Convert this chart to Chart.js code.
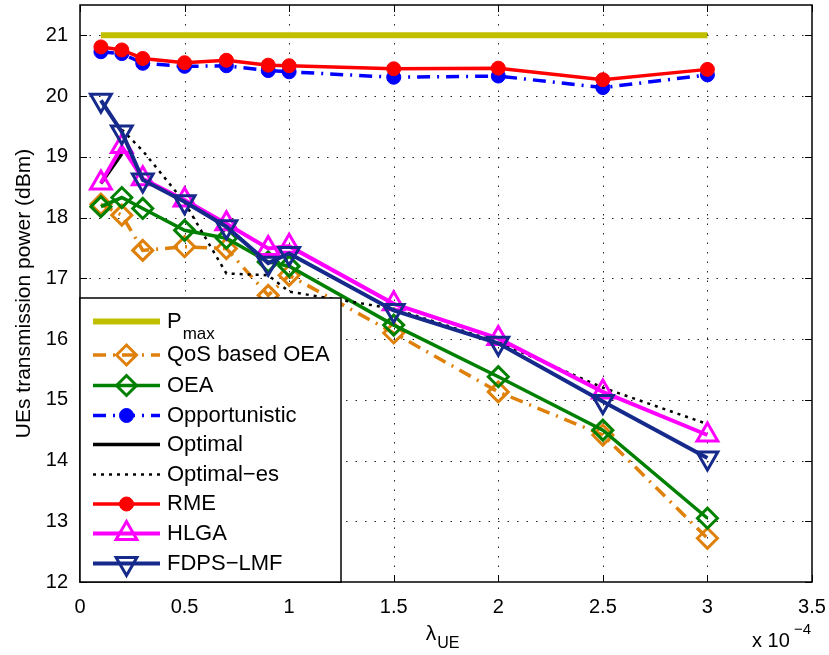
<!DOCTYPE html>
<html>
<head>
<meta charset="utf-8">
<script src="https://cdn.jsdelivr.net/npm/chart.js@4.4.1/dist/chart.umd.min.js"></script>
<style>
html, body { margin: 0; padding: 0; background: #fff; }
#wrap { width: 829px; height: 655px; }
</style>
</head>
<body>
<div id="wrap"><canvas id="potenciaChart" width="829" height="655"></canvas></div>
<script>
// Datos (lambda_UE en unidades de 1e-4)
const lambdaUE = [0.1, 0.2, 0.3, 0.5, 0.7, 0.9, 1.0, 1.5, 2.0, 2.5, 3.0];
const pMax = [21, 21, 21, 21, 21, 21, 21, 21, 21, 21, 21];
const qosOEA = [18.22, 18.04, 17.46, 17.52, 17.49, 16.72, 17.05, 16.1, 15.13, 14.42, 12.72];
const oea = [18.18, 18.33, 18.15, 17.79, 17.66, 17.27, 17.2, 16.23, 15.38, 14.5, 13.05];
const oportunista = [20.73, 20.70, 20.54, 20.49, 20.5, 20.42, 20.40, 20.31, 20.33, 20.14, 20.35];
const rme = [20.81, 20.76, 20.62, 20.55, 20.59, 20.51, 20.5, 20.45, 20.46, 20.27, 20.44];
const hlga = [18.57, 19.17, 18.64, 18.29, 17.9, 17.49, 17.53, 16.58, 16.01, 15.13, 14.42];
const fdpsLMF = [19.93, 19.41, 18.62, 18.26, 17.85, 17.25, 17.41, 16.47, 15.93, 14.97, 14.04];
const optimoX = [0.1, 0.2];
const optimo = [18.56, 19.05];
const optimoEsX = [0.2, 0.3, 0.5, 0.7, 0.9, 1.0, 1.5, 2.0, 2.5, 3.0];
const optimoEs = [19.45, 19.1, 18.25, 17.08, 17.05, 16.78, 16.5, 15.95, 15.2, 14.6];
const xTicks = [0, 0.5, 1, 1.5, 2, 2.5, 3, 3.5];
const yTicks = [12, 13, 14, 15, 16, 17, 18, 19, 20, 21];

const FUENTE = '"Liberation Sans", Arial, Helvetica, sans-serif';

function puntos(xs, ys) {
    return xs.map((x, i) => ({ x: x, y: ys[i] }));
}

// Series en el orden de la leyenda (las últimas se dibujan encima)
const series = [
    { label: 'P', sub: 'max', data: puntos(lambdaUE, pMax), borderColor: 'rgb(191,191,0)', borderWidth: 6,
      pointRadius: 0 },
    { label: 'QoS based OEA', data: puntos(lambdaUE, qosOEA), borderColor: 'rgb(222,128,10)', borderWidth: 3.5,
      borderDash: [13, 7, 2, 7], pointStyle: 'rectRot', pointRadius: 10, pointBorderWidth: 3 },
    { label: 'OEA', data: puntos(lambdaUE, oea), borderColor: 'rgb(0,128,0)', borderWidth: 3.5,
      pointStyle: 'rectRot', pointRadius: 10, pointBorderWidth: 3 },
    { label: 'Opportunistic', data: puntos(lambdaUE, oportunista), borderColor: 'rgb(0,0,255)', borderWidth: 3.5,
      borderDash: [13, 7, 2, 7], pointStyle: 'circle', pointRadius: 7, pointBorderWidth: 1, relleno: true },
    { label: 'Optimal', data: puntos(optimoX, optimo), borderColor: 'rgb(0,0,0)', borderWidth: 3.5,
      pointRadius: 0 },
    { label: 'Optimal\u2212es', data: puntos(optimoEsX, optimoEs), borderColor: 'rgb(0,0,0)', borderWidth: 2.5,
      borderDash: [3, 5], pointRadius: 0 },
    { label: 'RME', data: puntos(lambdaUE, rme), borderColor: 'rgb(255,0,0)', borderWidth: 3.5,
      pointStyle: 'circle', pointRadius: 7, pointBorderWidth: 1, relleno: true },
    { label: 'HLGA', data: puntos(lambdaUE, hlga), borderColor: 'rgb(255,0,255)', borderWidth: 4,
      pointStyle: 'triangle', pointRadius: 12, pointBorderWidth: 3 },
    { label: 'FDPS\u2212LMF', data: puntos(lambdaUE, fdpsLMF), borderColor: 'rgb(22,42,140)', borderWidth: 4,
      pointStyle: 'triangle', pointRotation: 180, pointRadius: 12, pointBorderWidth: 3 }
];

const datasets = series.map((s, i) => Object.assign({
    borderDash: [],
    pointRotation: 0,
    pointBorderColor: s.borderColor,
    pointBackgroundColor: s.relleno ? s.borderColor : 'rgba(0,0,0,0)',
    fill: false,
    tension: 0,
    order: series.length - i
}, s));

// Rejilla punteada estilo MATLAB
const rejillaPlugin = {
    id: 'rejilla',
    beforeDatasetsDraw(chart) {
        const ctx = chart.ctx;
        const a = chart.chartArea;
        const sx = chart.scales.x, sy = chart.scales.y;
        ctx.save();
        ctx.strokeStyle = '#222';
        ctx.lineWidth = 1;
        ctx.setLineDash([1.5, 8]);
        xTicks.forEach(v => {
            const px = Math.round(sx.getPixelForValue(v)) + 0.5;
            if (px <= a.left + 1 || px >= a.right - 1) return;
            ctx.beginPath(); ctx.moveTo(px, a.top); ctx.lineTo(px, a.bottom); ctx.stroke();
        });
        yTicks.forEach(v => {
            const py = Math.round(sy.getPixelForValue(v)) + 0.5;
            if (py <= a.top + 1 || py >= a.bottom - 1) return;
            ctx.beginPath(); ctx.moveTo(a.left, py); ctx.lineTo(a.right, py); ctx.stroke();
        });
        ctx.restore();
    },
    afterDatasetsDraw(chart) {
        const ctx = chart.ctx;
        const a = chart.chartArea;
        const sx = chart.scales.x, sy = chart.scales.y;
        ctx.save();
        ctx.setLineDash([]);
        ctx.strokeStyle = '#000';
        ctx.lineWidth = 1.5;
        ctx.strokeRect(a.left, a.top, a.right - a.left, a.bottom - a.top);
        ctx.lineWidth = 1;
        const L = 7;
        xTicks.forEach(v => {
            const px = Math.round(sx.getPixelForValue(v)) + 0.5;
            ctx.beginPath();
            ctx.moveTo(px, a.bottom); ctx.lineTo(px, a.bottom - L);
            ctx.moveTo(px, a.top); ctx.lineTo(px, a.top + L);
            ctx.stroke();
        });
        yTicks.forEach(v => {
            const py = Math.round(sy.getPixelForValue(v)) + 0.5;
            ctx.beginPath();
            ctx.moveTo(a.left, py); ctx.lineTo(a.left + L, py);
            ctx.moveTo(a.right, py); ctx.lineTo(a.right - L, py);
            ctx.stroke();
        });
        ctx.restore();
    }
};

function dibujarMarcador(ctx, ds, x, y) {
    if (!ds.pointRadius) return;
    ctx.save();
    ctx.setLineDash([]);
    ctx.strokeStyle = ds.pointBorderColor;
    ctx.fillStyle = ds.pointBackgroundColor;
    ctx.lineWidth = ds.pointBorderWidth;
    Chart.helpers.drawPoint(ctx, {
        pointStyle: ds.pointStyle,
        rotation: ds.pointRotation,
        radius: ds.pointRadius,
        borderWidth: ds.pointBorderWidth
    }, x, y);
    ctx.restore();
}

// Leyenda dentro del área del gráfico, abajo a la izquierda
const leyendaPlugin = {
    id: 'leyenda',
    afterDatasetsDraw(chart) {
        const ctx = chart.ctx;
        const a = chart.chartArea;
        const caja = { left: a.left, top: 298, right: 341, bottom: a.bottom };
        ctx.save();
        ctx.fillStyle = '#fff';
        ctx.fillRect(caja.left, caja.top, caja.right - caja.left, caja.bottom - caja.top);
        ctx.strokeStyle = '#000';
        ctx.lineWidth = 1.5;
        ctx.strokeRect(caja.left, caja.top, caja.right - caja.left, caja.bottom - caja.top);
        const filas = [321.5, 355, 385.5, 415.5, 444.5, 474.5, 504, 533.5, 563.5];
        chart.data.datasets.forEach((ds, i) => {
            const y = filas[i];
            ctx.save();
            ctx.strokeStyle = ds.borderColor;
            ctx.lineWidth = ds.borderWidth;
            ctx.setLineDash(ds.borderDash || []);
            ctx.beginPath();
            ctx.moveTo(93, y); ctx.lineTo(160, y);
            ctx.stroke();
            ctx.restore();
            dibujarMarcador(ctx, ds, 126.5, y);
            ctx.fillStyle = '#000';
            ctx.textBaseline = 'middle';
            ctx.textAlign = 'left';
            ctx.font = '22px ' + FUENTE;
            ctx.fillText(ds.label, 167, y);
            if (ds.sub) {
                const w = ctx.measureText(ds.label).width;
                ctx.font = '17px ' + FUENTE;
                ctx.fillText(ds.sub, 167 + w + 1, y + 13);
            }
        });
        ctx.restore();
    }
};

// Títulos de ejes con subíndices y exponente
const titulosPlugin = {
    id: 'titulos',
    afterDraw(chart) {
        const ctx = chart.ctx;
        const a = chart.chartArea;
        ctx.save();
        ctx.fillStyle = '#000';
        ctx.textBaseline = 'alphabetic';
        // eje x: lambda_UE
        ctx.font = '21px ' + FUENTE;
        const wL = ctx.measureText('\u03bb').width;
        ctx.font = '16px ' + FUENTE;
        const wUE = ctx.measureText('UE').width;
        const xc = (a.left + a.right) / 2 - 4;
        const x0 = xc - (wL + wUE) / 2;
        ctx.font = '21px ' + FUENTE;
        ctx.textAlign = 'left';
        ctx.fillText('\u03bb', x0, 640);
        ctx.font = '16px ' + FUENTE;
        ctx.fillText('UE', x0 + wL + 1, 648);
        // multiplicador x 10^-4
        ctx.font = '20px ' + FUENTE;
        ctx.fillText('x 10', 752, 647);
        ctx.font = '15px ' + FUENTE;
        ctx.fillText('\u22124', 794, 634);
        // eje y
        ctx.translate(24, (a.top + a.bottom) / 2);
        ctx.rotate(-Math.PI / 2);
        ctx.textAlign = 'center';
        ctx.textBaseline = 'middle';
        ctx.font = '21px ' + FUENTE;
        ctx.fillText('UEs transmission power (dBm)', 0, 0);
        ctx.restore();
    }
};

function crearGrafica() {
    const ctx = document.getElementById('potenciaChart').getContext('2d');
    new Chart(ctx, {
        type: 'line',
        data: { datasets: datasets },
        options: {
            responsive: false,
            animation: false,
            events: [],
            layout: { autoPadding: false, padding: { top: 5, right: 17, left: 0, bottom: 0 } },
            plugins: {
                legend: { display: false },
                tooltip: { enabled: false }
            },
            scales: {
                x: {
                    type: 'linear',
                    min: 0,
                    max: 3.5,
                    grid: { display: false, drawTicks: false },
                    border: { display: false },
                    afterBuildTicks: s => { s.ticks = xTicks.map(v => ({ value: v })); },
                    afterFit: s => { s.height = 73; s.paddingLeft = 0; s.paddingRight = 0; },
                    ticks: {
                        color: '#000',
                        padding: 13,
                        maxRotation: 0,
                        autoSkip: false,
                        font: { family: FUENTE, size: 20 },
                        callback: v => String(+v.toFixed(1))
                    }
                },
                y: {
                    type: 'linear',
                    min: 12,
                    max: 21.5,
                    grid: { display: false, drawTicks: false },
                    border: { display: false },
                    afterBuildTicks: s => { s.ticks = yTicks.map(v => ({ value: v })); },
                    afterFit: s => { s.width = 80; s.paddingTop = 0; s.paddingBottom = 0; },
                    ticks: {
                        color: '#000',
                        padding: 12,
                        autoSkip: false,
                        font: { family: FUENTE, size: 20 },
                        callback: v => String(v)
                    }
                }
            }
        },
        plugins: [rejillaPlugin, leyendaPlugin, titulosPlugin]
    });
}

document.addEventListener('DOMContentLoaded', crearGrafica);
</script>
</body>
</html>
